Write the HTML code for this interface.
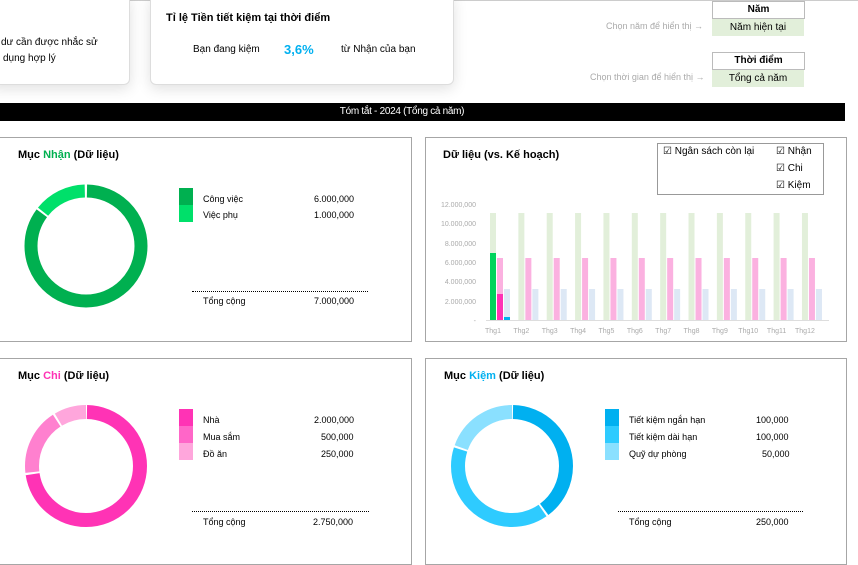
<!DOCTYPE html>
<html><head><meta charset="utf-8"><style>
body{margin:0;width:858px;height:557px;background:#fff;overflow:hidden;font-family:"Liberation Sans",sans-serif;position:relative}
.a{position:absolute;white-space:nowrap}
.card{position:absolute;background:#fff;border:1px solid #ddd;border-radius:6px;box-shadow:0 4px 14px rgba(0,0,0,0.12)}
.panel{position:absolute;border:1px solid #a6a6a6;background:#fff}
.t{font-weight:bold;font-size:11px;color:#000}
.s{font-size:9px;color:#000}
</style></head><body>
<div style="position:absolute;left:0;top:0;width:858px;height:1px;background:#ccc"></div>
<div class="card" style="left:-10px;top:-6px;width:138px;height:89px"></div>
<div class="a s" style="left:1px;top:37px;font-size:10px">dư cần được nhắc sử</div>
<div class="a s" style="left:3px;top:53px;font-size:10px">dụng hợp lý</div>
<div class="card" style="left:150px;top:-6px;width:302px;height:89px"></div>
<div class="a t" style="left:166px;top:12px">Tỉ lệ Tiền tiết kiệm tại thời điểm</div>
<div class="a s" style="left:193px;top:44px;font-size:10px">Bạn đang kiệm</div>
<div class="a" style="left:284px;top:42px;font-size:13px;font-weight:bold;color:#00b0f0">3,6%</div>
<div class="a s" style="left:341px;top:44px;font-size:10px">từ Nhận của bạn</div>

<div class="a" style="left:606px;top:21px;font-size:9px;color:#aaa">Chọn năm để hiển thị →</div>
<div class="a" style="left:590px;top:72px;font-size:9px;color:#aaa">Chọn thời gian để hiển thị →</div>
<div class="a" style="left:712px;top:1px;width:91px;height:16px;border:1px solid #bbb;text-align:center;font-weight:bold;font-size:10px;line-height:16px">Năm</div>
<div class="a" style="left:712px;top:19px;width:92px;height:17px;background:#e2efda;text-align:center;font-size:10px;line-height:17px">Năm hiện tại</div>
<div class="a" style="left:712px;top:52px;width:91px;height:16px;border:1px solid #bbb;text-align:center;font-weight:bold;font-size:10px;line-height:16px">Thời điểm</div>
<div class="a" style="left:712px;top:70px;width:92px;height:17px;background:#e2efda;text-align:center;font-size:10px;line-height:17px">Tổng cả năm</div>

<div class="a" style="left:0;top:103px;width:845px;height:18px;background:#000"></div>
<div class="a" style="left:336px;top:103px;width:132px;height:18px;color:#fff;font-size:10px;text-align:center;line-height:18px;letter-spacing:-0.3px">Tóm tắt - 2024 (Tổng cả năm)</div>

<div class="panel" style="left:-1px;top:137px;width:411px;height:203px"></div>
<div class="panel" style="left:425px;top:137px;width:420px;height:203px"></div>
<div class="panel" style="left:-1px;top:358px;width:411px;height:205px"></div>
<div class="panel" style="left:425px;top:358px;width:420px;height:205px"></div>

<div class="a t" style="left:18px;top:149px">Mục <span style="color:#00b050">Nhận</span> (Dữ liệu)</div>
<div class="a t" style="left:18px;top:370px">Mục <span style="color:#ff33b5">Chi</span> (Dữ liệu)</div>
<div class="a t" style="left:444px;top:370px">Mục <span style="color:#00b0f0">Kiệm</span> (Dữ liệu)</div>
<div class="a t" style="left:443px;top:149px">Dữ liệu (vs. Kế hoạch)</div>

<div class="a" style="left:179px;top:188px;width:14px;height:17px;background:#00b050"></div>
<div class="a" style="left:179px;top:205px;width:14px;height:17px;background:#00e06a"></div>
<div class="a s" style="left:203px;top:194px">Công việc</div><div class="a s" style="left:314px;top:194px">6.000,000</div>
<div class="a s" style="left:203px;top:210px">Việc phụ</div><div class="a s" style="left:314px;top:210px">1.000,000</div>
<div class="a" style="left:192px;top:291px;width:176px;border-top:1px dotted #000"></div>
<div class="a s" style="left:203px;top:296px">Tổng cộng</div><div class="a s" style="left:314px;top:296px">7.000,000</div>

<div class="a" style="left:179px;top:409px;width:14px;height:17px;background:#ff33b5"></div>
<div class="a" style="left:179px;top:426px;width:14px;height:17px;background:#ff66c8"></div>
<div class="a" style="left:179px;top:443px;width:14px;height:17px;background:#ffa6dc"></div>
<div class="a s" style="left:203px;top:415px">Nhà</div><div class="a s" style="left:314px;top:415px">2.000,000</div>
<div class="a s" style="left:203px;top:432px">Mua sắm</div><div class="a s" style="left:321px;top:432px">500,000</div>
<div class="a s" style="left:203px;top:449px">Đồ ăn</div><div class="a s" style="left:321px;top:449px">250,000</div>
<div class="a" style="left:192px;top:511px;width:177px;border-top:1px dotted #000"></div>
<div class="a s" style="left:203px;top:517px">Tổng cộng</div><div class="a s" style="left:313px;top:517px">2.750,000</div>

<div class="a" style="left:605px;top:409px;width:14px;height:17px;background:#00b0f0"></div>
<div class="a" style="left:605px;top:426px;width:14px;height:17px;background:#2ecbff"></div>
<div class="a" style="left:605px;top:443px;width:14px;height:17px;background:#8ae0ff"></div>
<div class="a s" style="left:629px;top:415px">Tiết kiệm ngắn hạn</div><div class="a s" style="left:756px;top:415px">100,000</div>
<div class="a s" style="left:629px;top:432px">Tiết kiệm dài hạn</div><div class="a s" style="left:756px;top:432px">100,000</div>
<div class="a s" style="left:629px;top:449px">Quỹ dự phòng</div><div class="a s" style="left:762px;top:449px">50,000</div>
<div class="a" style="left:618px;top:511px;width:185px;border-top:1px dotted #000"></div>
<div class="a s" style="left:629px;top:517px">Tổng cộng</div><div class="a s" style="left:756px;top:517px">250,000</div>

<div class="a" style="left:657px;top:143px;width:165px;height:50px;border:1px solid #999"></div>
<div class="a s" style="left:663px;top:146px;font-size:10px">☑ Ngân sách còn lại</div>
<div class="a s" style="left:776px;top:146px;font-size:10px">☑ Nhận</div>
<div class="a s" style="left:776px;top:163px;font-size:10px">☑ Chi</div>
<div class="a s" style="left:776px;top:180px;font-size:10px">☑ Kiệm</div>

<svg class="a" style="left:0;top:0" width="858" height="557">
<g fill="none" stroke-width="13" transform="rotate(-90 86 246)">
<circle cx="86" cy="246" r="55" stroke="#00b050" stroke-dasharray="293 53" stroke-dashoffset="-1"/>
<circle cx="86" cy="246" r="55" stroke="#00e06a" stroke-dasharray="48 298" stroke-dashoffset="-296"/>
</g>
<g fill="none" stroke-width="14" transform="rotate(-90 86 466)">
<circle cx="86" cy="466" r="54" stroke="#ff33b5" stroke-dasharray="245 95" stroke-dashoffset="-1"/>
<circle cx="86" cy="466" r="54" stroke="#ff80cf" stroke-dasharray="60 280" stroke-dashoffset="-248"/>
<circle cx="86" cy="466" r="54" stroke="#ffa6dc" stroke-dasharray="29 311" stroke-dashoffset="-310"/>
</g>
<g fill="none" stroke-width="14" transform="rotate(-90 512 466)">
<circle cx="512" cy="466" r="54" stroke="#00b0f0" stroke-dasharray="134 206" stroke-dashoffset="-1"/>
<circle cx="512" cy="466" r="54" stroke="#2ecbff" stroke-dasharray="134 206" stroke-dashoffset="-137"/>
<circle cx="512" cy="466" r="54" stroke="#8ae0ff" stroke-dasharray="66 274" stroke-dashoffset="-273"/>
</g>
<g font-size="7" fill="#aaa" text-anchor="end" font-family="Liberation Sans">
<text x="476" y="207">12.000,000</text><text x="476" y="226">10.000,000</text><text x="476" y="246">8.000,000</text>
<text x="476" y="265">6.000,000</text><text x="476" y="284">4.000,000</text><text x="476" y="304">2.000,000</text><text x="476" y="323">-</text>
</g>
<line x1="486" y1="320.5" x2="829" y2="320.5" stroke="#ddd"/>
<g id="bars"></g>
<g font-size="7" fill="#aaa" text-anchor="middle" font-family="Liberation Sans" id="lbl"></g>
</svg>
<script>
var b='',l='';
for(var i=0;i<12;i++){var x=490+28.36*i;
b+='<rect x="'+x+'" y="213" width="6" height="107" fill="#e2efda"/>';
b+='<rect x="'+(x+7)+'" y="258" width="6" height="62" fill="#fbb1e0"/>';
b+='<rect x="'+(x+14)+'" y="289" width="6" height="31" fill="#dde8f5"/>';
l+='<text x="'+(x+3)+'" y="333">Thg'+(i+1)+'</text>';}
b+='<rect x="490" y="253" width="6" height="67" fill="#00d45c"/><rect x="497" y="294" width="6" height="26" fill="#ff33b5"/><rect x="504" y="317" width="6" height="3" fill="#00b0f0"/>';
document.getElementById('bars').innerHTML=b;document.getElementById('lbl').innerHTML=l;
</script>
</body></html>
